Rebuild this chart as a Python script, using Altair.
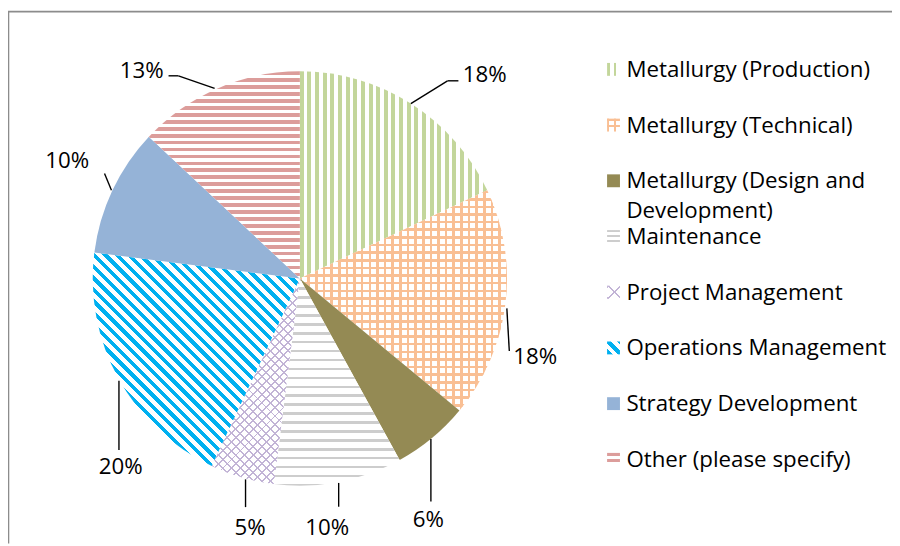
import math
import altair as alt
import pandas as pd

# ---------------- data ----------------
categories = [
    "Metallurgy (Production)",
    "Metallurgy (Technical)",
    "Metallurgy (Design and Development)",
    "Maintenance",
    "Project Management",
    "Operations Management",
    "Strategy Development",
    "Other (please specify)",
]
legend_text = [
    "Metallurgy (Production)",
    "Metallurgy (Technical)",
    "Metallurgy (Design and\nDevelopment)",
    "Maintenance",
    "Project Management",
    "Operations Management",
    "Strategy Development",
    "Other (please specify)",
]
values = [18, 18, 6, 10, 5, 20, 10, 13]
pct_labels = ["18%", "18%", "6%", "10%", "5%", "20%", "10%", "13%"]

# ---------------- style ----------------
W, H = 892, 538
CX, CY, R = 294.5, 270.5, 209
FONT = "Open Sans"
FS = 22.5
TRANSP = "rgba(255,255,255,0)"

# leader line offsets relative to the slice's mid-angle point on the rim
seg_start = [(0, 0), (1.5, 4), (-1, 1), (0, 1), (3.5, 2), (0.6, 2.5), (-1, 0), (-3, 0)]
seg_end = [(37, -23), (4, 47), (-1, 64), (0, 25), (3.5, 30), (0.6, 72.5), (-8, -17), (-39.5, -12.7)]
seg_elbow = [(48, -23), (4, 47), (-1, 64), (0, 25), (3.5, 30), (0.6, 72.5), (-8, -17), (-49.5, -12.7)]
text_off = [(52.5, -21.5), (8, 60), (-3.5, 89.5), (-11.5, 53.7), (8, 58.3), (2.3, 96.3), (-23.4, -23), (-54.5, -10.7)]
text_align = ["left", "left", "center", "center", "center", "center", "right", "right"]

# pattern layers: (normal, period, stripe width, colour, background) or a solid colour string
slice_patterns = [
    [((1, 0), 7.7, 4.0, "#c3d69b", "white")],
    [((1, 0), 7.7, 2.6, "#f9bf94", "white"), ((0, 1), 7.7, 2.6, "#f9bf94", TRANSP)],
    ["#948a54"],
    [((0, 1), 9.0, 2.6, "#cdcdcd", "white")],
    [((1, 1), 6.2, 1.4, "#c2b4d6", "white"), ((1, -1), 6.2, 1.4, "#c2b4d6", TRANSP)],
    [((1, -1), 8.3, 3.8, "#00b0f0", "white")],
    ["#95b3d7"],
    [((0, 1), 7.0, 3.8, "#dc9d9b", "white")],
]
legend_patterns = [
    [((1, 0), 6.5, 2.8, "#c3d69b", "white")],
    [((1, 0), 6.5, 2.0, "#f9bf94", "white"), ((0, 1), 6.5, 2.0, "#f9bf94", TRANSP)],
    ["#948a54"],
    [((0, 1), 5.0, 1.6, "#cdcdcd", "white")],
    [((1, 1), 9.2, 1.6, "#c2b4d6", "white"), ((1, -1), 9.2, 1.6, "#c2b4d6", TRANSP)],
    [((1, -1), 8.0, 4.0, "#00b0f0", "white")],
    ["#95b3d7"],
    [((0, 1), 6.5, 3.0, "#dc9d9b", "white")],
]


def stripe_gradient(w, h, normal, period, width, color, bg):
    nx, ny = normal
    L = math.hypot(nx, ny)
    nx, ny = nx / L, ny / L
    D = abs(w * nx) + abs(h * ny)
    ax = 0.0 if nx >= 0 else 1.0
    ay = 0.0 if ny >= 0 else 1.0
    gx, gy = w * nx / D, h * ny / D
    g2 = gx * gx + gy * gy
    bx, by = ax + gx / g2, ay + gy / g2
    stops = []
    k = 0
    while k * period < D:
        t0 = k * period / D
        t1 = min(1.0, (k * period + width) / D)
        t2 = min(1.0, (k + 1) * period / D)
        stops += [
            {"offset": round(t0, 5), "color": color},
            {"offset": round(t1, 5), "color": color},
            {"offset": round(t1, 5), "color": bg},
            {"offset": round(t2, 5), "color": bg},
        ]
        k += 1
    return {"gradient": "linear", "x1": ax, "y1": ay, "x2": bx, "y2": by, "stops": stops}


def arc_bbox(p0, p1, r):
    a0, a1 = p0 / 100 * 2 * math.pi, p1 / 100 * 2 * math.pi
    angs = [a0, a1] + [k * math.pi / 2 for k in range(5) if a0 < k * math.pi / 2 < a1]
    xs = [0.0] + [r * math.sin(a) for a in angs]
    ys = [0.0] + [-r * math.cos(a) for a in angs]
    return max(xs) - min(xs), max(ys) - min(ys)


df = pd.DataFrame({
    "idx": list(range(len(categories))),
    "cat": categories,
    "value": values,
    "label": pct_labels,
    "legend": legend_text,
    "s_dx": [p[0] for p in seg_start], "s_dy": [p[1] for p in seg_start],
    "e_dx": [p[0] for p in seg_end], "e_dy": [p[1] for p in seg_end],
    "f_dx": [p[0] for p in seg_elbow], "f_dy": [p[1] for p in seg_elbow],
    "t_dx": [p[0] for p in text_off], "t_dy": [p[1] for p in text_off],
    "align": text_align,
})

base = (
    alt.Chart(df)
    .transform_window(end="sum(value)", sort=[alt.SortField("idx")], frame=[None, 0])
    .transform_calculate(
        start="datum.end - datum.value",
        mid="(datum.end - datum.value / 2) / 100 * 2 * PI",
    )
    .transform_calculate(
        ax=f"{CX} + {R} * sin(datum.mid)",
        ay=f"{CY} - {R} * cos(datum.mid)",
    )
    .transform_calculate(
        sx="datum.ax + datum.s_dx", sy="datum.ay + datum.s_dy",
        ex="datum.ax + datum.e_dx", ey="datum.ay + datum.e_dy",
        fx="datum.ax + datum.f_dx", fy="datum.ay + datum.f_dy",
        tx="datum.ax + datum.t_dx", ty="datum.ay + datum.t_dy",
    )
)

theta_scale = alt.Scale(domain=[0, 100])
layers = []

# frame (top and left edges)
frame_df = pd.DataFrame({"k": [0]})
layers.append(alt.Chart(frame_df).mark_rule(color="#8c8c8c", strokeWidth=1.6).encode(
    x=alt.value(0), x2=alt.value(W), y=alt.value(1.2), y2=alt.value(1.2)))
layers.append(alt.Chart(frame_df).mark_rule(color="#8c8c8c", strokeWidth=1.6).encode(
    x=alt.value(0.5), x2=alt.value(0.5), y=alt.value(1), y2=alt.value(H)))

# pie slices
cum = 0
for i, v in enumerate(values):
    w, h = arc_bbox(cum, cum + v, R)
    cum += v
    for pat in slice_patterns[i]:
        fill = pat if isinstance(pat, str) else stripe_gradient(w, h, *pat)
        layers.append(
            base.transform_filter(f"datum.idx == {i}")
            .mark_arc(outerRadius=R, fill=fill, strokeWidth=0)
            .encode(
                theta=alt.Theta("start:Q", scale=theta_scale),
                theta2="end:Q",
                x=alt.value(CX),
                y=alt.value(CY),
            )
        )

# leader lines
for a, b in (("s", "e"), ("e", "f")):
    layers.append(
        base.mark_rule(color="black", strokeWidth=1.4).encode(
            x=alt.X(f"{a}x:Q", scale=None), y=alt.Y(f"{a}y:Q", scale=None),
            x2=f"{b}x:Q", y2=f"{b}y:Q",
        )
    )

# percentage labels
for al in ("left", "center", "right"):
    layers.append(
        base.transform_filter(f"datum.align == '{al}'")
        .mark_text(font=FONT, fontSize=FS, align=al, baseline="alphabetic", color="black")
        .encode(x=alt.X("tx:Q", scale=None), y=alt.Y("ty:Q", scale=None), text="label:N")
    )

# legend
leg_scale = alt.Scale(type="point", domain=categories, range=[67, 460.5], padding=0)
for i in range(len(categories)):
    for pat in legend_patterns[i]:
        fill = pat if isinstance(pat, str) else stripe_gradient(13, 13, *pat)
        layers.append(
            alt.Chart(df).transform_filter(f"datum.idx == {i}")
            .mark_square(size=169, fill=fill, opacity=1, strokeWidth=0, yOffset=-7.5)
            .encode(x=alt.value(611), y=alt.Y("cat:N", scale=leg_scale, axis=None))
        )
layers.append(
    alt.Chart(df).mark_text(font=FONT, fontSize=FS, align="left", baseline="alphabetic",
                            color="black", lineBreak="\n", lineHeight=30)
    .encode(x=alt.value(624), y=alt.Y("cat:N", scale=leg_scale, axis=None), text="legend:N")
)

chart = (
    alt.layer(*layers)
    .resolve_scale(y="independent", x="independent")
    .properties(width=W, height=H, autosize=alt.AutoSizeParams(type="none"), padding=0,
                background="white")
    .configure_view(stroke=None)
)

chart.save("out.html", embed_options={"renderer": "svg", "actions": False})
